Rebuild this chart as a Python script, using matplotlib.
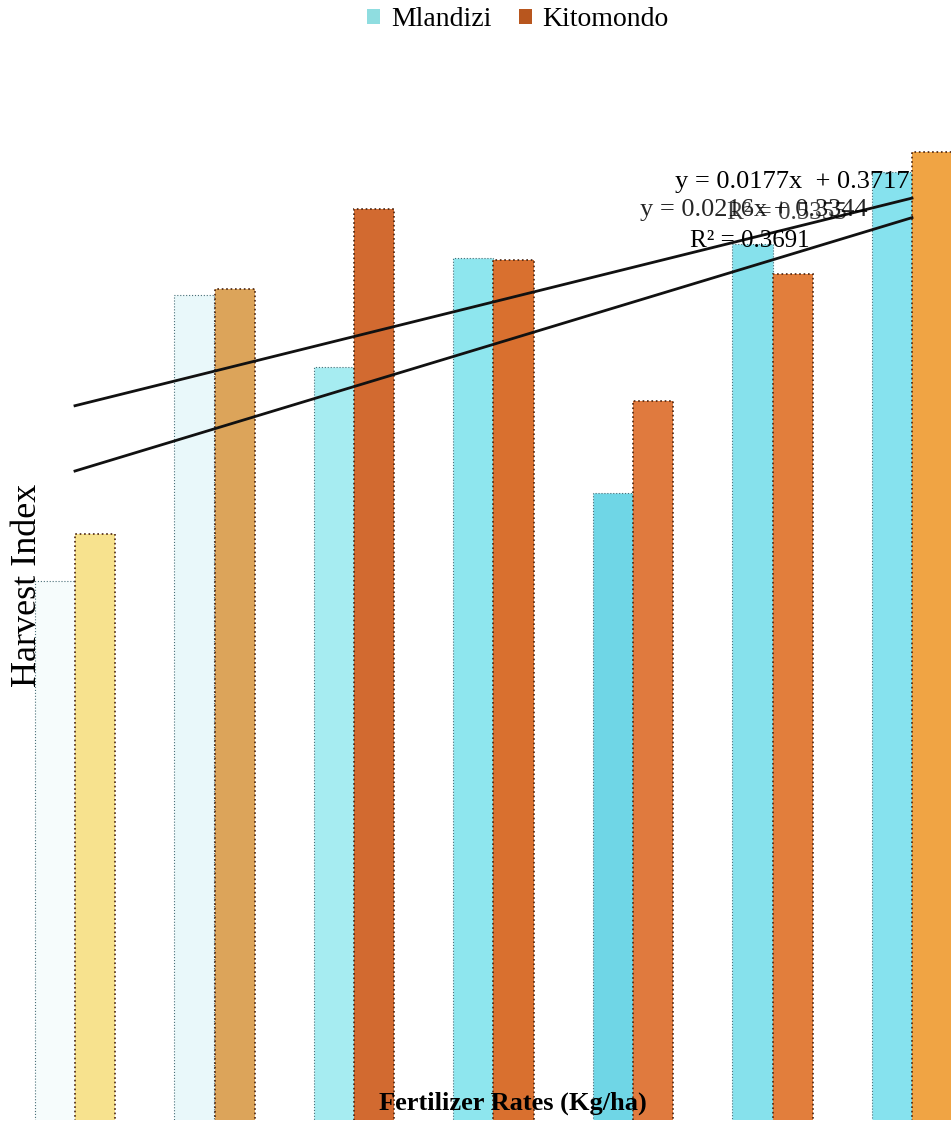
import numpy as np
import matplotlib
matplotlib.use("Agg")
import matplotlib.pyplot as plt
from matplotlib.patches import Patch

plt.rcParams['font.family'] = ['Liberation Serif', 'DejaVu Serif']

# data
groups = np.arange(1, 8)
mlandizi = [0.300, 0.446, 0.409, 0.465, 0.345, 0.472, 0.509]
kitomondo = [0.324, 0.449, 0.490, 0.464, 0.392, 0.457, 0.519]

# trend line coefficients as printed on the chart
trend_slope = {"Mlandizi": 0.0216, "Kitomondo": 0.0177}
trend_icept = {"Mlandizi": 0.3344, "Kitomondo": 0.3717}
trend_r2 = {"Mlandizi": "0.5355", "Kitomondo": "0.3691"}

# the scan fades the colours differently per bar
mland_colors = ['#f6fcfc', '#e9f8fa', '#a6ecf1', '#8ee6ee', '#6fd6e6', '#86e1ec', '#86e2ee']
kito_colors = ['#f7e28e', '#dca45a', '#d26a30', '#d9702f', '#e07a3e', '#e27e3c', '#f0a444']

fig = plt.figure(figsize=(9.51, 11.37), dpi=100)
ax = fig.add_axes([0, 17 / 1137, 1, 1 - 17 / 1137])

width = 0.29
ax.bar(groups - width / 2, mlandizi, width, color=mland_colors,
       edgecolor='#4a6f78', linewidth=0.8, linestyle=':')
ax.bar(groups + width / 2, kitomondo, width, color=kito_colors,
       edgecolor='#4a2410', linewidth=1.2, linestyle=':')

xs = np.array([1, 7])
for name in ["Kitomondo", "Mlandizi"]:
    ax.plot(xs, trend_slope[name] * xs + trend_icept[name], color='#111111', lw=2)

ax.set_xlim(1 - 75 / 139.5, 7 + 39 / 139.5)
ax.set_ylim(47 / 1955, 1167 / 1955)
ax.axis('off')

# equations
fig.text(910 / 951, 1 - 182 / 1137, "y = 0.0177x  + 0.3717", fontsize=19,
         ha='right', va='center')
fig.text(640 / 951, 1 - 210 / 1137, "y = 0.0216x + 0.3344", fontsize=19,
         ha='left', va='center', alpha=0.85)
fig.text(727 / 951, 1 - 213 / 1137, "R² = " + trend_r2["Mlandizi"], fontsize=18,
         ha='left', va='center', alpha=0.75)
fig.text(690 / 951, 1 - 241 / 1137, "R² = " + trend_r2["Kitomondo"], fontsize=18,
         ha='left', va='center')

# axis titles
fig.text(513 / 951, 1 - 1103 / 1137, "Fertilizer Rates (Kg/ha)", fontsize=19,
         fontweight='bold', ha='center', va='center')
fig.text(28 / 951, 1 - 585 / 1137, "Harvest Index", fontsize=26,
         rotation=90, ha='center', va='center')

handles = [Patch(facecolor='#8fdde0', edgecolor='none'),
           Patch(facecolor='#b8561e', edgecolor='none')]
fig.legend(handles, ["Mlandizi", "Kitomondo"], loc='center',
           bbox_to_anchor=(518 / 951, 1 - 20 / 1137), ncol=2, frameon=False,
           fontsize=20, handlelength=0.45, handleheight=0.45,
           handletextpad=0.4, columnspacing=1.0)

fig.savefig("out.png", dpi=100)
